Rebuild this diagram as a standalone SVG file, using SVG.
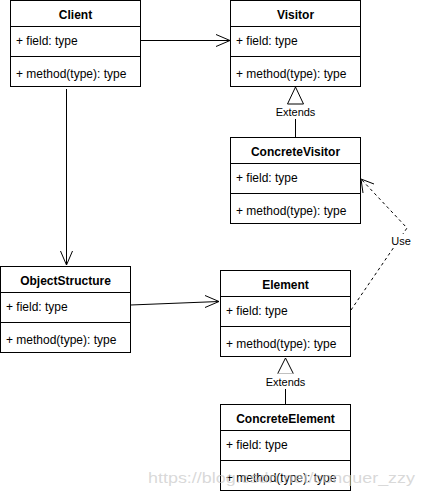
<svg xmlns="http://www.w3.org/2000/svg" width="425" height="494" viewBox="0 0 425 494">
<style>
.box{fill:#fff;stroke:#000;stroke-width:1}
.ln{stroke:#000;stroke-width:1;fill:none}
.t{font-family:"Liberation Sans",Arial,sans-serif;font-size:12px;fill:#000}
.b{font-weight:bold;text-anchor:middle}
.lbl{font-family:"Liberation Sans",Arial,sans-serif;font-size:11px;fill:#000;text-anchor:middle}
.dash{stroke-dasharray:3,3}
</style>
<rect width="425" height="494" fill="#fff"/>
<g id="connectors">
  <path class="ln" d="M140.5 40.5 H230"/>
  <path class="ln" d="M216 34.5 L230 40.5 L216 46.5"/>
  <path class="ln" d="M66.5 89 V265"/>
  <path class="ln" d="M60.5 251 L66.5 265 L72.5 251"/>
  <path class="ln" d="M295.5 137 V119"/>
  <polygon class="ln" points="295.5,87 287.5,104 303.5,104"/>
  <rect x="272" y="105" width="47" height="13" fill="#fff"/>
  <text class="lbl" x="295.5" y="116">Extends</text>
  <path class="ln" d="M130.5 305 L219 301.5"/>
  <path class="ln" d="M205 295.5 L219 301.5 L205 307.5"/>
  <path class="ln" d="M285.5 404 V389"/>
  <polygon class="ln" points="285.5,358 277.5,374 293.5,374"/>
  <rect x="262" y="373.5" width="47" height="14.5" fill="#fff"/>
  <text class="lbl" x="285.5" y="386">Extends</text>
  <path class="ln dash" d="M351 310 L407 228 L361 179"/>
  <path class="ln" d="M363 193 L361 179 L374 184"/>
  <rect x="390" y="234" width="22" height="13" fill="#fff"/>
  <text class="lbl" x="401" y="245">Use</text>
</g>
<g id="Client">
  <rect class="box" x="10.5" y="0.5" width="130" height="86"/>
  <path class="ln" d="M10.5 26.5 H140.5 M10.5 56.5 H140.5"/>
  <text class="t b" x="75.5" y="19">Client</text>
  <text class="t" x="16" y="45">+ field: type</text>
  <text class="t" x="16" y="78">+ method(type): type</text>
</g>
<g id="Visitor">
  <rect class="box" x="230.5" y="0.5" width="130" height="86"/>
  <path class="ln" d="M230.5 26.5 H360.5 M230.5 56.5 H360.5"/>
  <text class="t b" x="295.5" y="19">Visitor</text>
  <text class="t" x="236" y="45">+ field: type</text>
  <text class="t" x="236" y="78">+ method(type): type</text>
</g>
<g id="ConcreteVisitor">
  <rect class="box" x="230.5" y="137.5" width="130" height="86"/>
  <path class="ln" d="M230.5 163.5 H360.5 M230.5 193.5 H360.5"/>
  <text class="t b" x="295.5" y="156">ConcreteVisitor</text>
  <text class="t" x="236" y="182">+ field: type</text>
  <text class="t" x="236" y="215">+ method(type): type</text>
</g>
<g id="ObjectStructure">
  <rect class="box" x="0.5" y="266.5" width="130" height="86"/>
  <path class="ln" d="M0.5 292.5 H130.5 M0.5 322.5 H130.5"/>
  <text class="t b" x="65.5" y="285">ObjectStructure</text>
  <text class="t" x="6" y="311">+ field: type</text>
  <text class="t" x="6" y="344">+ method(type): type</text>
</g>
<g id="Element">
  <rect class="box" x="220.5" y="270.5" width="130" height="86"/>
  <path class="ln" d="M220.5 296.5 H350.5 M220.5 326.5 H350.5"/>
  <text class="t b" x="285.5" y="289">Element</text>
  <text class="t" x="226" y="315">+ field: type</text>
  <text class="t" x="226" y="348">+ method(type): type</text>
</g>
<g id="ConcreteElement">
  <rect class="box" x="220.5" y="404.5" width="130" height="86"/>
  <path class="ln" d="M220.5 430.5 H350.5 M220.5 460.5 H350.5"/>
  <text class="t b" x="285.5" y="423">ConcreteElement</text>
  <text class="t" x="226" y="449">+ field: type</text>
  <text class="t" x="226" y="482">+ method(type): type</text>
</g>
<text x="148" y="483" font-family="'Liberation Sans',Arial,sans-serif" font-size="15" fill="#c8c8c8" fill-opacity="0.7" textLength="267" lengthAdjust="spacingAndGlyphs">https://blog.csdn.net/conquer_zzy</text>
</svg>
